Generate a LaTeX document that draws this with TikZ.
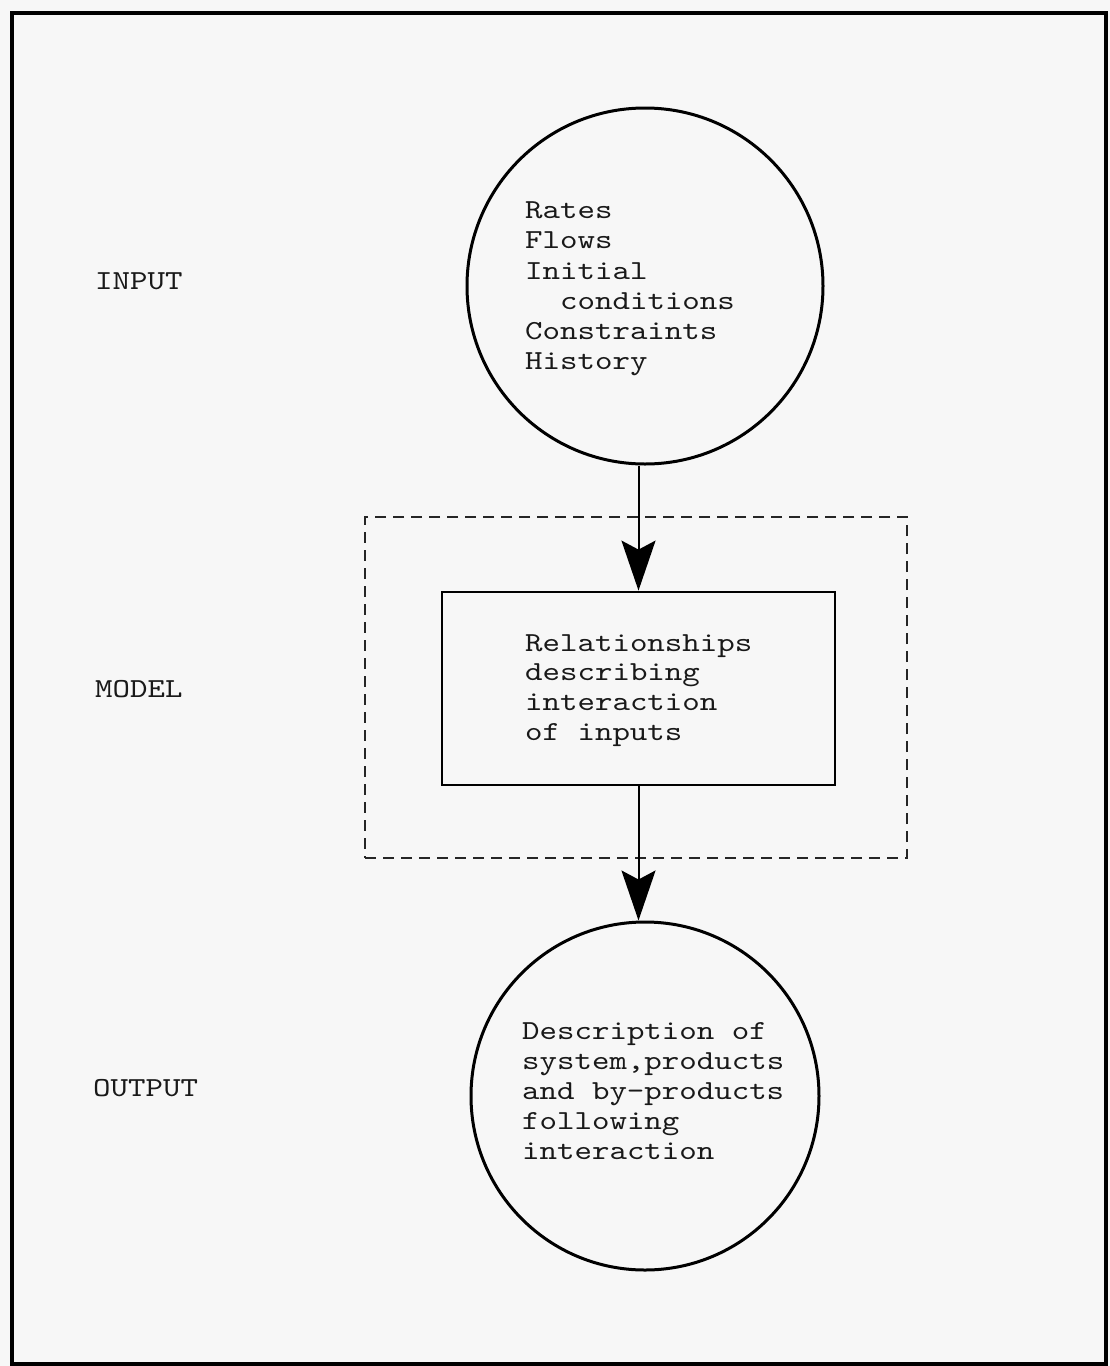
\documentclass[tikz,border=0pt]{standalone}
\usepackage{fontspec}
\setmonofont{lmmono10-regular.otf}[FakeStretch=1.21]
\usetikzlibrary{arrows.meta}
\begin{document}
\begin{tikzpicture}[x=1pt,y=-1pt,
  txt/.style={font=\ttfamily\fontsize{27.5}{30}\selectfont, inner sep=0pt, anchor=base west,
    text height=19pt, text depth=6pt, text=black!90},
  frame/.style={line width=3.2pt, draw=black},
  bubble/.style={circle, draw=black, line width=3pt, inner sep=0pt},
  modelbox/.style={rectangle, draw=black, line width=2.8pt, inner sep=0pt},
  zone/.style={rectangle, draw=black!85, line width=2.3pt, dash pattern=on 11pt off 7pt, inner sep=0pt},
  flow/.style={line width=2pt, -{Stealth[length=50pt, width=34pt, inset=9pt]}}]
  \useasboundingbox (0,0) rectangle (1110,1366);
  \fill[black!3] (0,0) rectangle (1110,1366);

  % outer frame
  \draw[frame] (12,13) rectangle (1106,1364);

  % stage shapes
  \node[bubble, minimum size=356pt] (inp) at (645,286) {};
  \node[zone, minimum width=542pt, minimum height=341pt] (zone) at (636,687.5) {};
  \node[modelbox, minimum width=393pt, minimum height=193pt] (mdl) at (638.5,688.5) {};
  \node[bubble, minimum size=348pt] (outp) at (645,1096) {};

  % connectors
  \draw[flow] (inp.south -| mdl.north) -- (mdl.north);
  \draw[flow] (mdl.south) -- (mdl.south |- outp.north);

  % stage labels
  \node[txt] (linput) at (95,289) {INPUT};
  \node[txt] (lmodel) at (95,697) {MODEL};
  \node[txt] (loutput) at (93,1096) {OUTPUT};

  % input contents
  \node[txt] (i1) at (525,218) {Rates};
  \node[txt] (i2) at (525,248) {Flows};
  \node[txt] (i3) at (525,279) {Initial};
  \node[txt] (i4) at (560,309) {conditions};
  \node[txt] (i5) at (525,339) {Constraints};
  \node[txt] (i6) at (525,369) {History};

  % model contents
  \node[txt] (m1) at (525,651) {Relationships};
  \node[txt] (m2) at (525,680) {describing};
  \node[txt] (m3) at (525,710) {interaction};
  \node[txt] (m4) at (525,740) {of inputs};

  % output contents
  \node[txt] (o1) at (522,1039) {Description of};
  \node[txt] (o2) at (522,1069) {system,products};
  \node[txt] (o3) at (522,1099) {and by-products};
  \node[txt] (o4) at (522,1129) {following};
  \node[txt] (o5) at (522,1159) {interaction};
\end{tikzpicture}
\end{document}
